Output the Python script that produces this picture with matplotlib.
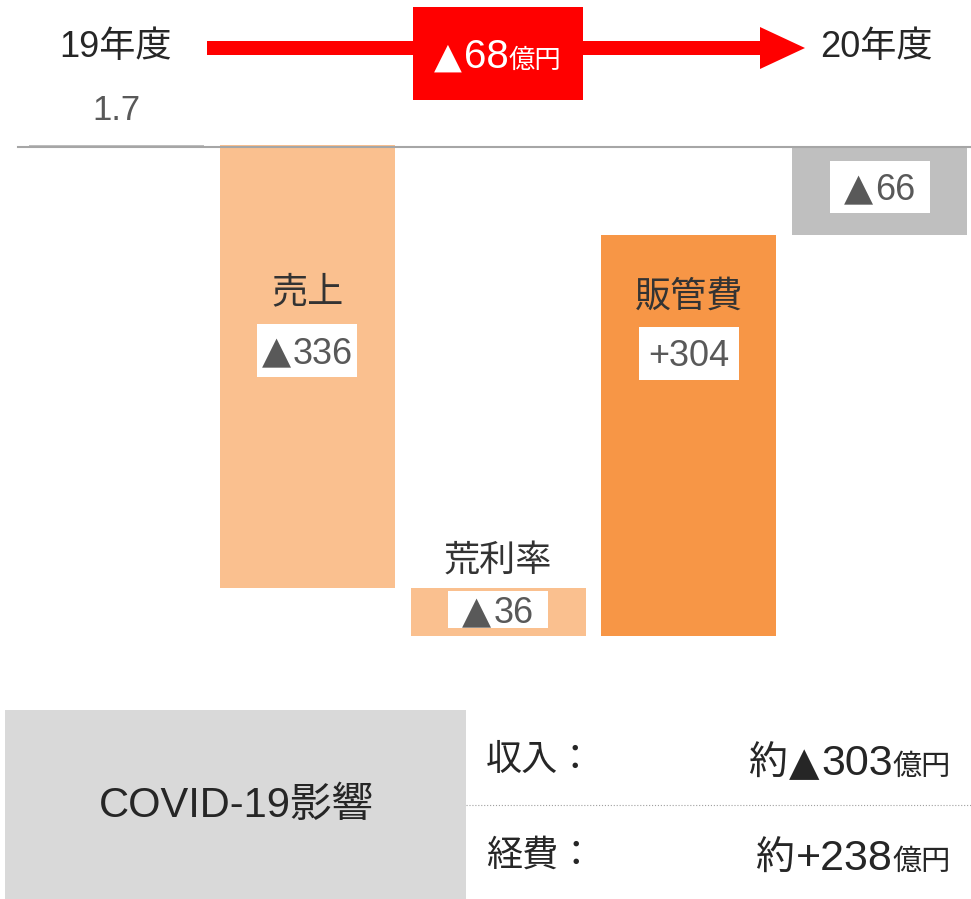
import matplotlib
matplotlib.use("Agg")
from matplotlib import pyplot as plt
from matplotlib.patches import Rectangle, FancyArrow
import numpy as np

plt.rcParams['font.family'] = ['Liberation Sans', 'Noto Sans CJK JP']

# waterfall data (億円)
start_value = 1.7
steps = ['売上', '荒利率', '販管費']
step_values = [-336, -36, 304]
step_labels = ['▲336', '▲36', '+304']
end_label = '▲66'
start_label = '1.7'
total_change = '▲68'
years = ['19年度', '20年度']

covid_title = 'COVID-19影響'
covid_rows = ['収入：', '経費：']
covid_values = ['▲303', '+238']

GRAY = '#BFBFBF'
LIGHT_ORANGE = '#FAC08F'
ORANGE = '#F79646'
RED = '#FF0000'
LABEL = '#333333'
VALUE = '#595959'
DARK = '#262626'
TRI_FONT = 'DejaVu Sans'

W, H = 971, 899
fig = plt.figure(figsize=(W / 100, H / 100), dpi=100)
ax = fig.add_axes([0, 0, 1, 1])

# one category = 190.75 px, 0 sits at y=147 px
px_per_cat = 190.75
px_per_unit = 1.32
ax.set_xlim(-116.5 / px_per_cat, (W - 116.5) / px_per_cat)
ax.set_ylim(-(H - 147) / px_per_unit, 147 / px_per_unit)
ax.axis('off')


def P(x, y):
    # pixel (top-left origin) -> figure fraction
    return x / W, 1 - y / H


def bar_x(i):
    return ax.transData.transform((i, 0))[0]


def rich(x, y, parts, ha='center', color=DARK, zorder=5):
    # parts: (text, size, family, gap after in px); y is the shared baseline in px
    texts = [fig.text(0, 0, s, fontsize=size, family=fam, color=color,
                      ha='left', va='baseline', zorder=zorder)
             for s, size, fam, _ in parts]
    r = fig.canvas.get_renderer()
    widths = [t.get_window_extent(r).width + p[3] for t, p in zip(texts, parts)]
    total = sum(widths)
    x0 = {'left': x, 'center': x - total / 2, 'right': x - total}[ha]
    for t, w in zip(texts, widths):
        t.set_position(P(x0, y))
        x0 += w


def number_parts(s, size, tri=1.05):
    if s.startswith('▲'):
        return [('▲', size * tri, TRI_FONT, 2), (s[1:], size, None, 0)]
    return [(s, size, None, 0)]


def white_box(cx, cy, w, h):
    fig.add_artist(Rectangle(P(cx - w / 2, cy + h / 2), w / W, h / H,
                             transform=fig.transFigure, fc='white', ec='none', zorder=4))


# bars
width = 175 / px_per_cat
cum = np.concatenate([[start_value], start_value + np.cumsum(step_values)])
end_value = cum[-1]

ax.bar(0, start_value, width=width, color=GRAY, zorder=2)
colors = [LIGHT_ORANGE, LIGHT_ORANGE, ORANGE]
for i, v in enumerate(step_values):
    bottom = cum[i] if v > 0 else cum[i] + v
    ax.bar(i + 1, abs(v), bottom=bottom, width=width, color=colors[i], zorder=2)
ax.bar(len(step_values) + 1, end_value, width=width, color=GRAY, zorder=2)

ax.axhline(0, xmin=18 / W, xmax=1, color='#A6A6A6', lw=1.5, zorder=3)

# labels on bars
rich(bar_x(0), 120, [(start_label, 25, None, 0)], color=VALUE)

name_y = [293, 561, 297]
box_y = [350, 609.5, 353]
box_h = [53, 37, 53]
for i, (name, lab) in enumerate(zip(steps, step_labels)):
    cx = bar_x(i + 1)
    fig.text(*P(cx, name_y[i]), name, ha='center', va='center', fontsize=26,
             color=LABEL, zorder=5)
    white_box(cx, box_y[i], 100, box_h[i])
    rich(cx, box_y[i] + 13.5, number_parts(lab, 26), color=VALUE)

cx = bar_x(len(step_values) + 1)
white_box(cx, 187, 100, 52)
rich(cx, 200.5, number_parts(end_label, 26), color=VALUE)

# top: year labels and arrow
fig.text(*P(115, 57), years[0], ha='center', va='baseline', fontsize=26, color=DARK)
fig.text(*P(876, 57), years[1], ha='center', va='baseline', fontsize=26, color=DARK)

x0, x1 = 207 / W, 805 / W
arrow = FancyArrow(x0, 1 - 48 / H, x1 - x0, 0, width=14 / H, head_width=42 / H,
                   head_length=45 / W, length_includes_head=True,
                   transform=fig.transFigure, color=RED, lw=0)
fig.add_artist(arrow)
fig.add_artist(Rectangle(P(413, 100), 170 / W, 93 / H, transform=fig.transFigure,
                         color=RED, lw=0))
rich(498, 68, number_parts(total_change, 29, 0.9) + [('億円', 19, None, 0)], color='white')

# bottom: COVID-19 box
fig.add_artist(Rectangle(P(5, 899), 461 / W, 189 / H, transform=fig.transFigure,
                         color='#D9D9D9', lw=0))
fig.text(*P(236, 806), covid_title, ha='center', va='center', fontsize=30, color=DARK)

fig.add_artist(plt.Line2D([466 / W, 1], [1 - 805 / H] * 2, transform=fig.transFigure,
                          color='#A0A0A0', lw=0.8, ls=':'))

row_center = [760, 856]
row_base = [775, 870]
for lab, val, yc, yb in zip(covid_rows, covid_values, row_center, row_base):
    fig.text(*P(486, yc), lab, ha='left', va='center', fontsize=26, color=DARK)
    parts = ([('約', 28, None, 2)] + number_parts(val, 31, 0.92)
             + [('億円', 21, None, 0)])
    rich(951, yb, parts, ha='right', color=DARK)

fig.savefig('out.png', dpi=100)
